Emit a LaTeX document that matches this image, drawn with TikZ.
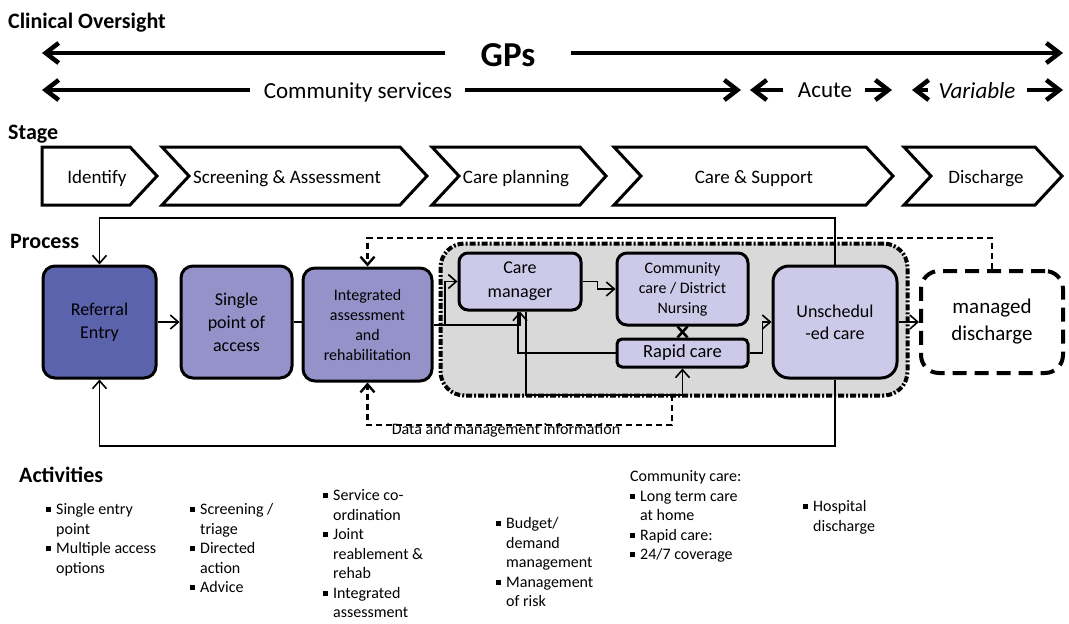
\documentclass[tikz,border=0pt]{standalone}
\usepackage{fontspec}
\setmainfont{Carlito}
\usetikzlibrary{arrows.meta,calc}
\definecolor{refc}{RGB}{91,99,173}
\definecolor{midc}{RGB}{148,146,200}
\definecolor{litc}{RGB}{204,202,232}
\definecolor{greyc}{RGB}{217,217,217}
\newcommand{\sqb}{\raisebox{0.35ex}{\rule{5pt}{5pt}}}
\begin{document}
\begin{tikzpicture}[x=1pt,y=-1pt,
  head/.style={font=\bfseries\fontsize{22}{26}\selectfont, anchor=base west, inner sep=0},
  bigarr/.style={line width=4.5pt, -{Straight Barb[length=13pt,width=20pt]}},
  toptxt/.style={font=\fontsize{23}{26}\selectfont, anchor=base, inner sep=0},
  chev/.style={draw, line width=3pt, line join=miter, fill=white},
  chevtxt/.style={font=\fontsize{19}{22}\selectfont, anchor=base, inner sep=0},
  pbox/.style={draw, line width=3pt, rounded corners=12pt, align=center, inner sep=2pt},
  conn/.style={line width=1.6pt},
  carr/.style={conn, -{Straight Barb[length=8pt,width=14pt]}},
  dconn/.style={line width=2.4pt, dash pattern=on 6pt off 4pt, -{Straight Barb[length=8pt,width=14pt]}},
  act/.style={font=\fontsize{16}{19.5}\selectfont, anchor=north west, inner sep=0}
]
\useasboundingbox (0,0) rectangle (1069,624);

% ---- headings
\node[head] (hco) at (8,28) {Clinical Oversight};
\node[head] (hst) at (8,139) {Stage};
\node[head] (hpr) at (10,248) {Process};
\node[head] (hac) at (19,482) {Activities};

% ---- top arrows
\node[font=\bfseries\fontsize{35}{40}\selectfont, anchor=base, inner sep=0] (gps) at (508,66) {GPs};
\coordinate (g0) at (42,53); \coordinate (g1) at (445,53);
\coordinate (g2) at (571,53); \coordinate (g3) at (1063,53);
\draw[bigarr] (g1) -- (g0);
\draw[bigarr] (g2) -- (g3);

\node[toptxt] (cs) at (358,98) {Community services};
\node[toptxt] (ac) at (825,97) {Acute};
\node[toptxt, font=\itshape\fontsize{23}{26}\selectfont] (va) at (977,98) {Variable};
\coordinate (r0) at (42,90);  \coordinate (r1) at (250,90);
\coordinate (r2) at (465,90); \coordinate (r3) at (741,90);
\coordinate (r4) at (783,90); \coordinate (r5) at (750,90);
\coordinate (r6) at (865,90); \coordinate (r7) at (892,90);
\coordinate (r8) at (928,90); \coordinate (r9) at (912,90);
\coordinate (r10) at (1027,90); \coordinate (r11) at (1063,90);
\draw[bigarr] (r1) -- (r0);
\draw[bigarr] (r2) -- (r3);
\draw[bigarr] (r4) -- (r5);
\draw[bigarr] (r6) -- (r7);
\draw[bigarr] (r8) -- (r9);
\draw[bigarr] (r10) -- (r11);

% ---- stage chevrons
\draw[chev] (42,147) -- (130,147) -- (157,176) -- (130,205) -- (42,205) -- cycle;
\draw[chev] (162,147) -- (400,147) -- (427,176) -- (400,205) -- (162,205) -- (189,176) -- cycle;
\draw[chev] (432,147) -- (580,147) -- (606,176) -- (580,205) -- (432,205) -- (459,176) -- cycle;
\draw[chev] (614,147) -- (866,147) -- (893,176) -- (866,205) -- (614,205) -- (641,176) -- cycle;
\draw[chev] (904,147) -- (1035,147) -- (1062,176) -- (1035,205) -- (904,205) -- (931,176) -- cycle;
\node[chevtxt] (s1) at (97,183) {Identify};
\node[chevtxt] (s2) at (287,183) {Screening \& Assessment};
\node[chevtxt] (s3) at (516,183) {Care planning};
\node[chevtxt] (s4) at (754,183) {Care \& Support};
\node[chevtxt] (s5) at (986,183) {Discharge};

% ---- process region
\node[draw, fill=greyc, line width=4pt, rounded corners=24pt,
      dash pattern=on 6pt off 2pt on 2pt off 2pt,
      minimum width=467pt, minimum height=152pt, inner sep=0] (reg) at (674,319.5) {};

\node[pbox, fill=refc, text=black, font=\fontsize{18}{23}\selectfont,
      minimum width=113pt, minimum height=112pt] (ref) at (99.5,322) {Referral\\Entry};
\node[pbox, fill=midc, font=\fontsize{18}{23}\selectfont,
      minimum width=111pt, minimum height=112pt] (spa) at (236.5,322) {Single\\point of\\access};
\node[pbox, fill=midc, font=\fontsize{16}{20}\selectfont,
      minimum width=129pt, minimum height=113pt] (iar) at (367.5,324.5) {Integrated\\assessment\\and\\rehabilitation};
\node[pbox, fill=litc, font=\fontsize{18}{24}\selectfont, rounded corners=9pt,
      minimum width=122pt, minimum height=57pt] (cm) at (520,281.5) {Care\\manager};
\node[pbox, fill=litc, font=\fontsize{16}{20}\selectfont, rounded corners=10pt,
      minimum width=131pt, minimum height=72pt] (cc) at (682.5,289) {Community\\care / District\\Nursing};
\node[pbox, fill=litc, font=\fontsize{18.5}{22}\selectfont, rounded corners=5pt,
      minimum width=131pt, minimum height=28pt, inner sep=0] (rc) at (682.5,353) {Rapid care};
\node[pbox, fill=litc, font=\fontsize{18}{22}\selectfont, rounded corners=16pt,
      minimum width=124pt, minimum height=112pt] (uc) at (835,322) {Unschedul\\-ed care};
\node[pbox, fill=white, font=\fontsize{21}{27}\selectfont, rounded corners=18pt,
      line width=4pt, dash pattern=on 14pt off 8pt,
      minimum width=142pt, minimum height=102pt] (md) at (992,322) {managed\\discharge};

% ---- connectors
\draw[carr] (uc.north) -- (uc.north |- 0,218) -- (ref.north |- 0,218) -- (ref.north);
\draw[carr] (uc.south) -- (uc.south |- 0,446) -- (ref.south |- 0,446) -- (ref.south);
\draw[carr] (ref.east) -- (spa.west);
\draw[conn] (spa.east) -- (spa.east -| iar.west);
\draw[carr] (iar.east |- 0,325) -| (cm.south);
\coordinate (b1) at (445,325);
\draw[carr] (b1) |- (cm.west);
\draw[conn] (rc.west) -| ([xshift=-2pt]cm.south);
\draw[carr] ([xshift=6pt]cm.south) |- (rc.south |- 0,395) -- (rc.south);
\draw[carr] (cm.east) -- ++(15,0) |- (cc.west);
\draw[conn, line width=2.6pt] ([xshift=-5pt]cc.south) -- ([xshift=5pt]rc.north);
\draw[conn, line width=2.6pt] ([xshift=5pt]cc.south) -- ([xshift=-5pt]rc.north);
\draw[carr] (rc.east) -- ++(13,0) |- (uc.west);
\draw[carr] (uc.east) -- (md.west);

\coordinate (d0) at (672,395);
\draw[dconn] (d0) -- (672,425) -- (iar.south |- 0,425) -- (iar.south);
\draw[dconn] (md.north) -- (md.north |- 0,238) -- (iar.north |- 0,238) -- (iar.north);
\node[font=\fontsize{16}{18}\selectfont, inner sep=0] (dmi) at (506,430) {Data and management information};

% ---- activities
\node[act] (c1) at (46,501) {\begin{tabular}{@{}l@{\hspace{5pt}}l@{}}\sqb & Single entry\\ & point\\ \sqb & Multiple access\\ & options\end{tabular}};
\node[act] (c2) at (190,501) {\begin{tabular}{@{}l@{\hspace{5pt}}l@{}}\sqb & Screening /\\ & triage\\ \sqb & Directed\\ & action\\ \sqb & Advice\end{tabular}};
\node[act] (c3) at (323,487) {\begin{tabular}{@{}l@{\hspace{5pt}}l@{}}\sqb & Service co-\\ & ordination\\ \sqb & Joint\\ & reablement \&\\ & rehab\\ \sqb & Integrated\\ & assessment\end{tabular}};
\node[act] (c4) at (496,515) {\begin{tabular}{@{}l@{\hspace{5pt}}l@{}}\sqb & Budget/\\ & demand\\ & management\\ \sqb & Management\\ & of risk\end{tabular}};
\node[act] (c5) at (630,468) {\begin{tabular}{@{}l@{\hspace{5pt}}l@{}}\multicolumn{2}{@{}l@{}}{Community care:}\\ \sqb & Long term care\\ & at home\\ \sqb & Rapid care:\\ \sqb & 24/7 coverage\end{tabular}};
\node[act] (c6) at (803,498) {\begin{tabular}{@{}l@{\hspace{5pt}}l@{}}\sqb & Hospital\\ & discharge\end{tabular}};
\end{tikzpicture}
\end{document}
